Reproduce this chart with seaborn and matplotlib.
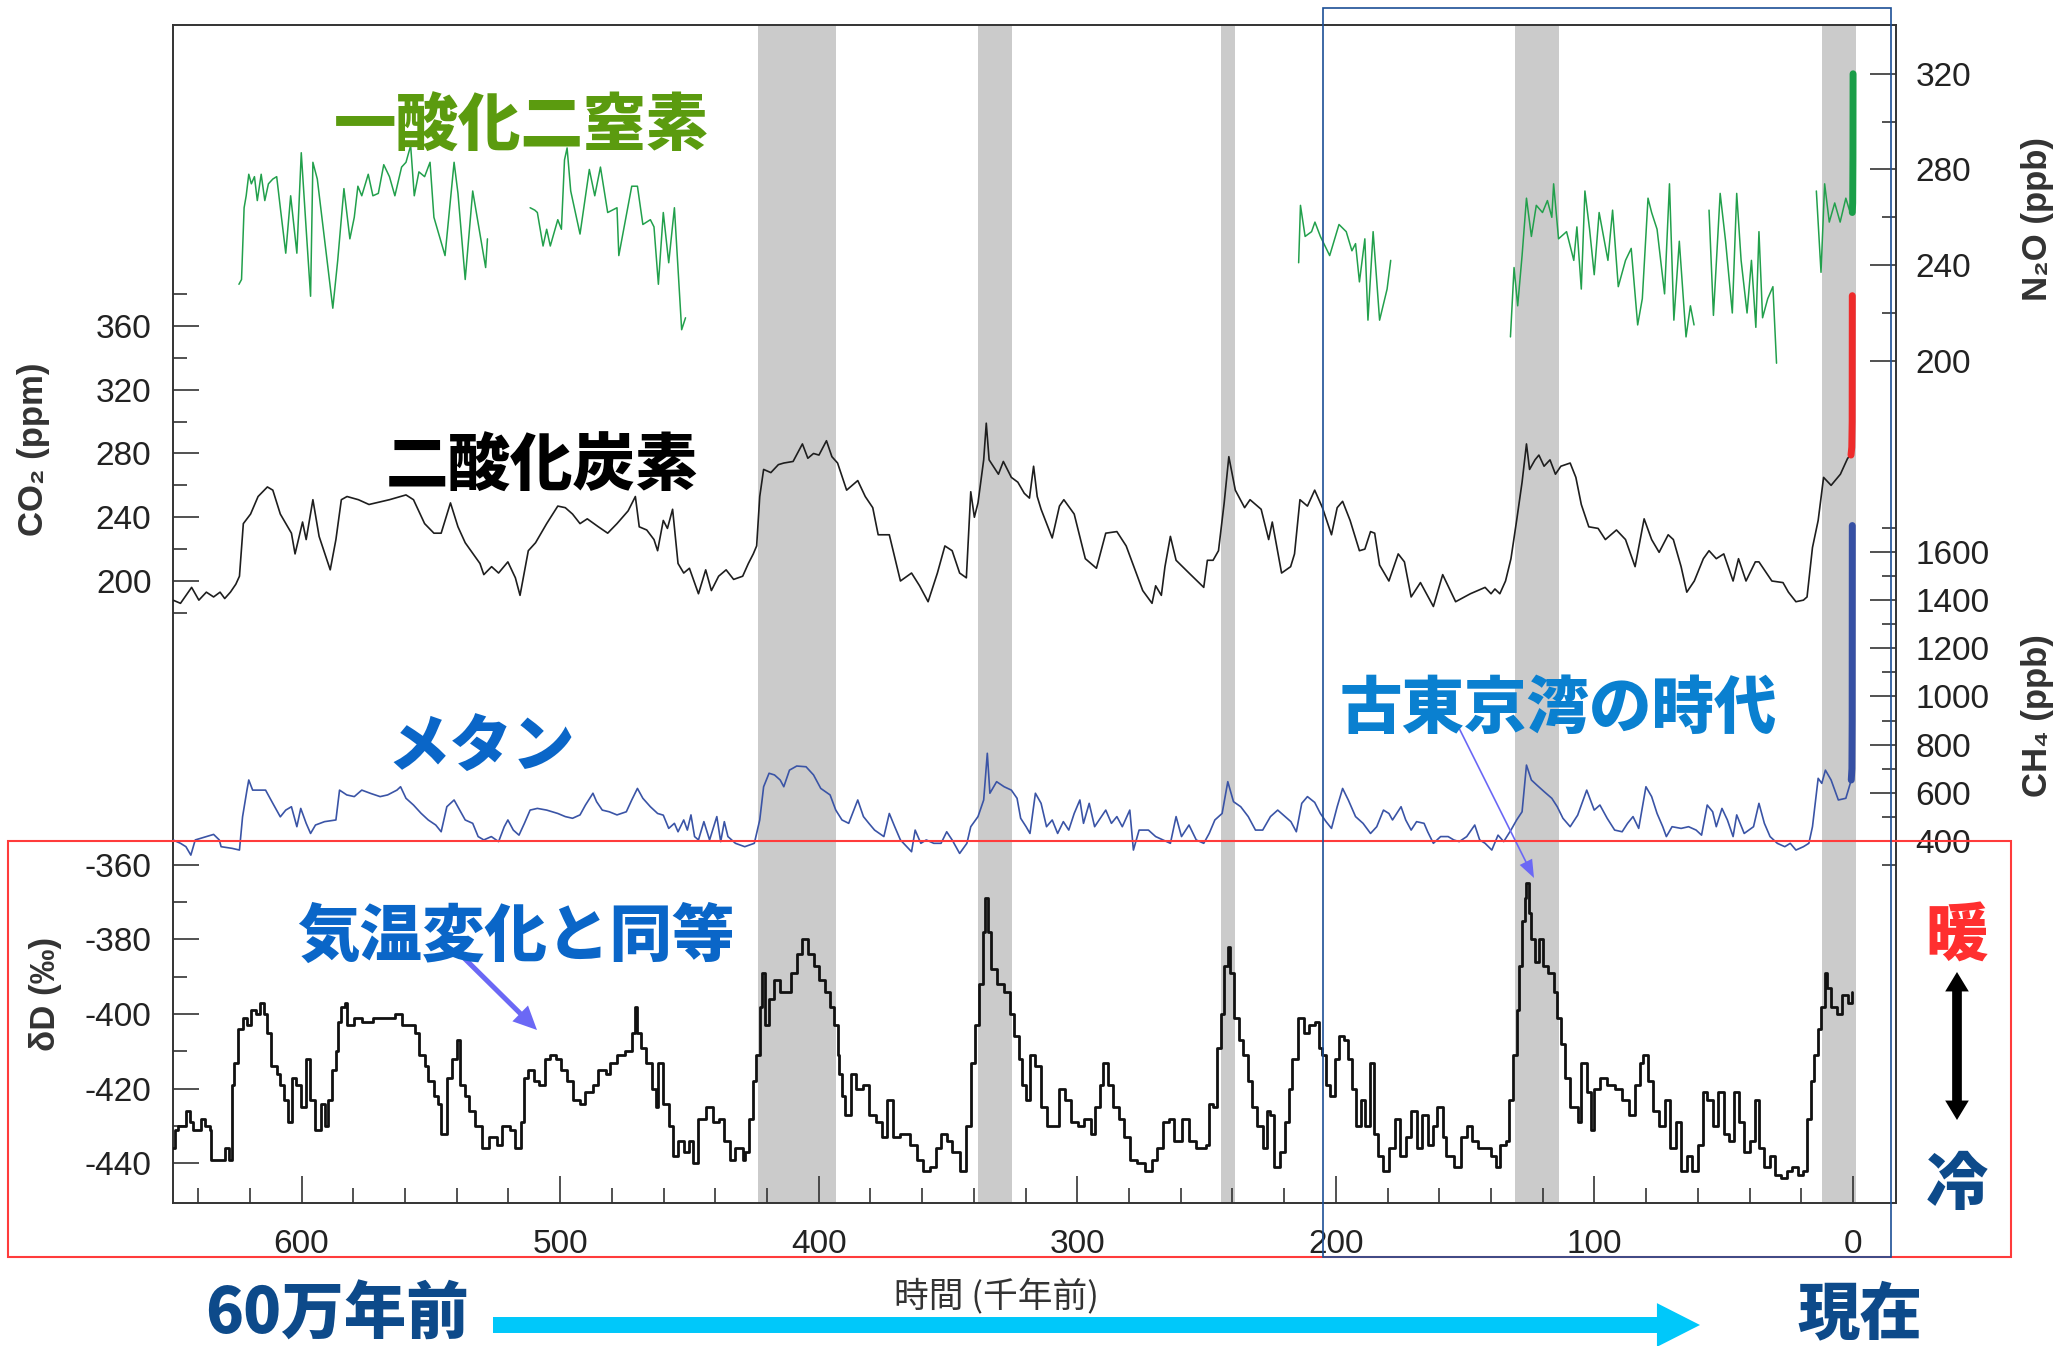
import matplotlib
matplotlib.use("Agg")
import matplotlib.pyplot as plt
from matplotlib.patches import Rectangle, FancyArrowPatch
from matplotlib.ticker import FixedLocator
import seaborn as sns

# ---------------------------------------------------------------------------
# Ice-core records (age in thousand years before present)
# ---------------------------------------------------------------------------
co2_age = [
    649.7, 646.8, 642.5, 639.7, 636.8, 634.0, 631.5, 629.7, 627.5, 625.4,
    624.0, 622.5, 619.7, 616.8, 613.2, 611.1, 608.2, 603.9, 602.5, 599.6,
    598.2, 595.6, 593.2, 588.9, 586.7, 584.6, 582.4, 578.0, 573.9, 566.0,
    559.6, 556.7, 552.4, 548.8, 546.0, 542.4, 539.5, 536.7, 531.0, 529.5,
    526.5, 523.8, 520.2, 517.3, 515.5, 512.3, 509.5, 505.2, 500.9, 498.0,
    495.2, 492.3, 489.5, 485.2, 481.6, 478.0, 473.7, 470.9, 469.4, 466.5,
    463.7, 462.3, 460.1, 458.5, 456.5, 454.4, 452.2, 450.0, 446.5, 443.7,
    441.5, 438.7, 435.8, 432.9, 429.4, 427.2, 425.3, 424.0, 422.8, 421.3,
    418.5, 415.6, 413.5, 409.9, 406.3, 404.2, 402.0, 399.9, 397.0, 394.9,
    392.7, 389.2, 384.9, 382.0, 379.1, 377.0, 372.7, 368.4, 364.1, 361.0,
    357.7, 354.1, 351.2, 348.4, 345.5, 342.9, 341.2, 339.8, 338.4, 336.2,
    335.2, 334.1, 330.5, 328.6, 325.5, 323.0, 320.5, 318.5, 316.9, 315.5,
    314.0, 309.7, 306.9, 305.2, 301.2, 296.9, 292.6, 289.0, 284.7, 281.1,
    274.7, 271.1, 269.7, 267.5, 266.1, 264.0, 261.8, 256.8, 251.1, 249.7,
    247.5, 245.4, 243.2, 241.4, 238.9, 235.3, 233.2, 228.9, 226.0, 224.6,
    221.0, 217.5, 216.0, 213.9, 211.0, 208.2, 205.2, 201.7, 199.5, 197.4,
    194.5, 190.9, 188.8, 186.6, 185.0, 183.1, 179.5, 175.9, 173.5, 170.9,
    167.3, 162.3, 158.7, 153.7, 148.0, 142.3, 140.0, 138.5, 136.6, 134.4,
    132.3, 130.1, 128.0, 126.3, 125.1, 123.0, 121.5, 119.5, 117.2, 115.1,
    113.0, 109.4, 107.2, 105.1, 102.2, 98.6, 95.8, 91.5, 88.0, 84.3,
    80.8, 77.9, 75.0, 71.5, 69.5, 66.5, 64.3, 61.4, 57.9, 55.7,
    52.9, 50.0, 46.4, 44.3, 41.4, 37.8, 36.4, 31.4, 27.1, 25.0,
    22.1, 19.2, 17.8, 15.7, 13.5, 11.4, 8.5, 4.9, 2.1, 0.8,
]
co2_ppm = [
    188, 186, 196, 188, 193, 190, 193, 189, 193, 198,
    203, 236, 242, 253, 259, 257, 242, 230, 217, 237,
    226, 251, 228, 207, 226, 251, 253, 251, 248, 251,
    254, 251, 236, 230, 230, 249, 234, 224, 211, 204,
    209, 205, 212, 202, 191, 219, 224, 236, 247, 246,
    242, 236, 239, 234, 230, 236, 244, 253, 234, 232,
    226, 219, 238, 233, 245, 211, 205, 208, 192, 207,
    194, 203, 207, 201, 203, 211, 217, 222, 253, 270,
    268, 273, 274, 275, 286, 277, 280, 279, 288, 278,
    274, 257, 263, 253, 246, 229, 229, 200, 205, 197,
    187, 205, 222, 219, 205, 202, 256, 240, 249, 276,
    299, 276, 267, 275, 265, 262, 255, 252, 272, 253,
    245, 227, 247, 251, 242, 214, 208, 230, 231, 222,
    194, 186, 197, 191, 209, 228, 213, 205, 196, 213,
    213, 219, 249, 278, 257, 246, 251, 245, 226, 237,
    205, 209, 217, 251, 247, 257, 246, 229, 246, 250,
    238, 219, 220, 231, 230, 210, 200, 217, 212, 190,
    199, 184, 204, 187, 192, 196, 192, 195, 192, 200,
    214, 238, 262, 286, 270, 276, 279, 272, 276, 267,
    272, 274, 265, 248, 234, 233, 226, 232, 226, 209,
    239, 226, 218, 229, 226, 209, 193, 200, 214, 219,
    214, 217, 200, 214, 200, 212, 212, 200, 199, 193,
    187, 188, 190, 221, 238, 265, 260, 267, 277, 279,
]

ch4_age = [
    649.7, 646.8, 644.7, 642.8, 641.1, 636.8, 634.0, 631.8, 631.1, 626.8,
    624.0, 622.8, 621.1, 620.4, 618.9, 616.1, 613.9, 611.1, 608.2, 606.1,
    603.9, 601.8, 600.3, 598.2, 596.5, 594.6, 591.1, 586.7, 585.3, 582.5,
    579.6, 576.7, 573.2, 569.6, 566.7, 563.1, 561.7, 559.6, 556.7, 553.8,
    551.0, 548.1, 546.0, 543.8, 541.0, 538.8, 536.7, 533.8, 531.7, 529.5,
    526.6, 523.8, 521.6, 520.2, 518.1, 515.9, 513.8, 511.6, 508.8, 505.2,
    500.9, 498.0, 495.2, 492.3, 490.2, 487.3, 485.9, 483.7, 481.0, 478.0,
    474.4, 472.3, 470.1, 468.0, 465.1, 462.3, 460.1, 458.0, 455.8, 454.4,
    452.2, 450.8, 449.4, 448.0, 446.5, 444.4, 442.2, 439.4, 437.9, 436.5,
    435.1, 432.2, 428.6, 424.9, 422.8, 421.3, 419.2, 417.1, 414.9, 413.5,
    411.3, 408.5, 404.9, 402.0, 399.2, 395.6, 393.4, 391.0, 388.4, 384.9,
    382.7, 380.6, 378.4, 374.8, 372.7, 370.6, 368.4, 364.1, 362.7, 360.5,
    358.4, 355.5, 352.7, 350.5, 348.4, 345.5, 342.7, 341.2, 338.4, 336.2,
    334.8, 333.8, 331.2, 328.3, 325.5, 323.3, 321.9, 319.8, 318.3, 316.2,
    314.0, 311.9, 309.7, 307.6, 305.4, 303.3, 301.2, 299.0, 297.6, 295.4,
    293.3, 291.1, 289.0, 286.8, 284.7, 282.6, 279.7, 278.3, 276.1, 272.5,
    269.7, 266.8, 264.0, 261.8, 259.7, 256.8, 254.0, 251.1, 249.0, 246.8,
    244.0, 241.8, 239.6, 236.8, 233.9, 231.1, 228.3, 225.3, 222.5, 219.6,
    217.4, 215.3, 213.2, 211.0, 208.2, 206.0, 203.8, 201.7, 199.5, 197.4,
    195.2, 192.4, 189.5, 186.6, 184.2, 181.6, 179.5, 178.1, 174.8, 173.0,
    170.9, 168.8, 165.9, 164.5, 162.3, 159.5, 156.6, 154.4, 152.3, 149.4,
    146.3, 144.4, 142.3, 139.7, 137.3, 135.1, 132.3, 130.1, 128.0, 126.3,
    124.4, 122.3, 119.4, 116.5, 114.4, 112.2, 109.4, 106.5, 103.0, 100.1,
    97.9, 95.1, 92.2, 89.3, 87.2, 85.1, 82.9, 80.1, 77.9, 75.8,
    73.6, 72.2, 70.0, 66.5, 63.6, 60.7, 58.6, 56.4, 54.3, 52.9,
    50.7, 48.6, 46.4, 45.0, 42.1, 38.5, 36.4, 34.3, 32.1, 29.3,
    26.4, 24.3, 22.1, 19.2, 17.1, 15.7, 13.5, 12.1, 10.7, 8.5,
    5.7, 2.8, 0.7,
]
ch4_ppb = [
    404, 390, 376, 341, 404, 418, 427, 404, 376, 369,
    362, 500, 611, 653, 611, 611, 611, 556, 500, 528,
    542, 459, 535, 473, 431, 466, 480, 487, 611, 591,
    584, 611, 597, 584, 591, 611, 625, 577, 549, 515,
    487, 466, 438, 542, 570, 528, 487, 473, 418, 404,
    418, 397, 459, 487, 445, 424, 473, 528, 535, 528,
    514, 501, 494, 508, 549, 598, 563, 528, 521, 508,
    521, 570, 618, 577, 542, 514, 507, 452, 473, 438,
    487, 445, 508, 418, 404, 480, 404, 501, 397, 480,
    418, 390, 376, 390, 487, 625, 681, 674, 653, 625,
    694, 711, 708, 674, 618, 591, 528, 487, 473, 570,
    501, 473, 445, 418, 514, 459, 404, 355, 445, 390,
    404, 390, 390, 438, 404, 348, 390, 459, 501, 570,
    764, 598, 646, 625, 611, 577, 494, 459, 431, 598,
    556, 459, 487, 431, 480, 445, 514, 570, 473, 556,
    459, 494, 528, 473, 501, 459, 528, 362, 445, 445,
    418, 404, 390, 501, 418, 466, 404, 390, 431, 487,
    514, 646, 563, 542, 501, 445, 445, 501, 528, 501,
    480, 438, 556, 584, 560, 514, 480, 452, 542, 618,
    570, 501, 473, 431, 459, 528, 514, 487, 542, 487,
    445, 480, 473, 438, 390, 418, 418, 404, 397, 418,
    466, 404, 390, 362, 424, 397, 445, 487, 521, 715,
    653, 632, 604, 577, 542, 494, 459, 507, 611, 528,
    549, 494, 445, 438, 473, 501, 452, 625, 584, 514,
    459, 418, 459, 452, 459, 445, 424, 549, 521, 459,
    535, 487, 418, 508, 431, 459, 556, 473, 418, 390,
    376, 390, 362, 376, 390, 459, 660, 639, 694, 653,
    570, 577, 653,
]

dd_age = [
    649.7, 649.0, 647.6, 644.7, 643.3, 641.8, 639.0, 637.5, 635.4, 635.0,
    631.1, 629.7, 628.2, 626.8, 626.1, 624.7, 622.5, 621.1, 619.7, 617.5,
    616.1, 614.7, 613.2, 611.8, 609.6, 608.2, 606.8, 605.3, 603.6, 602.2,
    600.3, 598.2, 596.8, 594.6, 592.5, 591.0, 589.6, 588.2, 586.7, 586.0,
    584.6, 583.2, 582.5, 579.6, 576.7, 572.4, 568.1, 563.9, 561.0, 558.1,
    556.0, 554.6, 552.4, 551.0, 548.8, 547.4, 546.0, 543.8, 541.7, 539.8,
    538.8, 536.7, 535.2, 533.1, 530.2, 527.4, 524.5, 522.4, 519.5, 517.3,
    515.2, 513.8, 512.3, 510.2, 508.1, 505.9, 503.8, 501.6, 499.5, 497.3,
    495.2, 492.3, 490.2, 487.3, 485.2, 482.3, 480.9, 478.0, 475.1, 472.3,
    471.1, 470.1, 468.7, 466.6, 464.4, 463.0, 462.3, 460.1, 458.0, 456.5,
    454.4, 452.2, 450.1, 448.7, 446.5, 443.7, 440.8, 438.7, 436.5, 434.4,
    432.2, 429.4, 428.5, 427.1, 425.6, 424.2, 422.8, 422.1, 420.6, 419.2,
    417.1, 414.9, 412.8, 410.6, 408.5, 406.3, 404.2, 402.0, 399.9, 397.7,
    395.6, 394.2, 392.7, 392.0, 391.0, 389.9, 387.7, 385.6, 382.7, 380.6,
    377.7, 375.6, 373.4, 371.3, 368.4, 364.8, 362.0, 359.8, 357.0, 354.8,
    352.7, 350.5, 348.4, 345.5, 342.9, 341.2, 339.5, 338.1, 336.6, 335.5,
    334.4, 333.3, 331.2, 328.3, 326.2, 324.3, 322.6, 321.2, 320.0, 318.3,
    316.2, 314.0, 311.9, 309.0, 306.9, 304.7, 302.6, 299.7, 297.6, 294.7,
    293.3, 291.1, 290.0, 288.3, 286.1, 284.0, 281.8, 279.7, 276.8, 274.0,
    271.1, 269.0, 266.8, 264.7, 262.5, 259.7, 256.8, 254.0, 250.4, 248.9,
    247.5, 246.1, 244.6, 243.2, 241.8, 240.8, 239.4, 237.5, 236.1, 234.0,
    232.5, 230.4, 228.2, 226.8, 225.3, 223.9, 221.8, 219.6, 218.2, 216.8,
    214.6, 212.5, 210.3, 208.2, 206.7, 205.2, 203.8, 202.4, 200.2, 198.8,
    196.7, 195.2, 193.8, 192.4, 190.2, 188.8, 186.9, 185.2, 183.8, 181.6,
    179.5, 177.3, 175.2, 173.0, 170.9, 168.8, 166.6, 164.5, 162.3, 160.9,
    158.7, 157.3, 154.4, 151.6, 149.4, 147.3, 145.1, 142.3, 140.1, 138.0,
    136.6, 134.4, 133.0, 131.6, 130.1, 129.1, 128.0, 127.0, 126.3, 125.4,
    124.4, 123.0, 121.5, 120.1, 118.0, 115.8, 114.4, 113.0, 111.5, 109.4,
    106.5, 105.1, 103.0, 101.5, 100.1, 97.9, 95.1, 92.2, 89.3, 86.5,
    84.3, 82.5, 81.1, 79.3, 77.2, 75.0, 72.9, 70.8, 68.6, 66.5,
    64.3, 62.2, 60.0, 57.9, 56.4, 54.3, 52.1, 50.0, 47.9, 46.1,
    44.3, 42.1, 40.0, 38.1, 36.4, 34.3, 32.1, 30.0, 27.8, 25.7,
    23.6, 21.4, 19.2, 17.8, 16.4, 15.0, 13.5, 12.4, 11.0, 10.0,
    8.5, 6.4, 4.2, 2.1, 0.4,
]
dd_permil = [
    -436, -431, -430, -426, -429, -431, -428, -430, -431, -439,
    -439, -436, -439, -419, -413, -404, -401, -403, -399, -400,
    -397, -400, -405, -414, -416, -419, -423, -429, -417, -419,
    -425, -412, -423, -431, -424, -430, -423, -415, -410, -402,
    -398, -397, -403, -401, -402, -401, -401, -400, -403, -403,
    -405, -411, -414, -418, -422, -424, -432, -417, -412, -407,
    -419, -422, -426, -430, -436, -433, -435, -430, -431, -436,
    -429, -417, -415, -418, -419, -412, -411, -412, -415, -418,
    -423, -424, -421, -419, -415, -416, -413, -411, -410, -405,
    -398, -405, -409, -413, -420, -425, -413, -424, -430, -438,
    -434, -437, -434, -440, -428, -425, -429, -428, -434, -439,
    -436, -439, -437, -428, -418, -411, -398, -389, -403, -396,
    -391, -394, -394, -389, -384, -380, -384, -387, -391, -394,
    -398, -403, -411, -416, -422, -427, -416, -420, -419, -427,
    -429, -433, -423, -433, -432, -435, -439, -442, -441, -436,
    -432, -434, -437, -442, -430, -413, -403, -392, -378, -369,
    -378, -388, -392, -394, -400, -406, -412, -419, -423, -411,
    -414, -425, -430, -430, -420, -423, -429, -430, -428, -432,
    -425, -419, -413, -419, -425, -428, -433, -439, -440, -442,
    -439, -436, -429, -428, -434, -428, -434, -436, -435, -424,
    -425, -409, -400, -387, -382, -389, -401, -407, -411, -418,
    -425, -430, -436, -426, -427, -441, -437, -429, -420, -412,
    -401, -405, -403, -402, -409, -411, -419, -422, -412, -406,
    -407, -412, -420, -430, -423, -430, -413, -432, -438, -442,
    -436, -428, -438, -433, -426, -436, -427, -435, -430, -425,
    -433, -438, -441, -433, -430, -434, -436, -436, -438, -441,
    -435, -434, -423, -411, -399, -387, -375, -369, -365, -373,
    -380, -386, -380, -387, -389, -394, -401, -408, -417, -425,
    -429, -413, -421, -431, -420, -417, -419, -420, -423, -427,
    -419, -413, -411, -418, -426, -430, -423, -436, -429, -442,
    -438, -442, -435, -421, -423, -430, -421, -432, -434, -421,
    -429, -437, -434, -423, -436, -441, -438, -443, -444, -442,
    -441, -443, -442, -428, -418, -411, -404, -398, -389, -393,
    -398, -400, -395, -397, -394,
]

# N2O is only available in separate core sections
n2o_age_1 = [624.2, 623.2, 622.2, 621.4, 620.4, 619.4, 618.2, 617.1, 615.6, 614.2,
             612.8, 611.1, 609.6, 608.2, 606.1, 604.2, 601.8, 600.1, 598.2, 596.5,
             595.6, 593.9, 587.9, 586.0, 583.6, 581.3, 579.6, 578.2, 576.7, 574.2,
             572.4, 570.3, 568.2, 566.0, 563.9, 561.3, 559.6, 557.8, 556.4, 554.6,
             552.4, 550.3, 548.8, 544.5, 541.0, 539.5, 536.7, 533.8, 528.8, 528.1]
n2o_ppb_1 = [232, 234, 264, 269, 278, 274, 277, 267, 278, 267,
             274, 276, 277, 264, 245, 269, 245, 287, 255, 227,
             283, 276, 222, 242, 272, 251, 260, 273, 269, 278,
             269, 270, 282, 277, 269, 281, 283, 290, 269, 279,
             277, 283, 260, 244, 283, 270, 234, 271, 239, 251]
n2o_age_2 = [511.6, 509.8, 508.8, 506.6, 505.2, 503.8, 500.9, 499.5, 498.3, 497.3,
             495.9, 492.3, 488.7, 486.6, 484.4, 481.6, 478.0, 477.3, 472.3, 470.1,
             468.0, 465.1, 463.7, 462.0, 460.1, 458.0, 455.8, 453.0, 451.5]
n2o_ppb_2 = [264, 263, 262, 248, 255, 248, 259, 255, 284, 289,
             271, 253, 280, 269, 281, 262, 264, 244, 273, 273,
             257, 259, 256, 232, 262, 241, 264, 213, 218]
n2o_age_3 = [214.4, 213.7, 211.9, 209.4, 208.1, 206.0, 202.4, 198.8, 196.0, 193.8,
             192.4, 190.9, 188.8, 187.6, 185.6, 183.1, 180.2, 178.8]
n2o_ppb_3 = [241, 265, 252, 254, 258, 252, 244, 257, 254, 246,
             249, 233, 251, 217, 254, 217, 230, 242]
n2o_age_4 = [132.5, 131.1, 129.7, 128.0, 126.3, 124.4, 122.5, 120.1, 118.2, 116.5,
             115.8, 113.9, 110.8, 108.0, 106.8, 105.1, 103.7, 101.9, 100.1, 98.2,
             96.5, 94.8, 93.0, 90.8, 88.0, 85.8, 83.3, 81.5, 79.3, 77.9,
             75.8, 72.9, 71.0, 69.3, 67.2, 64.6, 62.9, 61.5]
n2o_ppb_4 = [210, 239, 223, 244, 268, 252, 265, 262, 267, 260,
             274, 251, 254, 242, 256, 230, 271, 255, 236, 262,
             252, 242, 263, 231, 242, 247, 215, 226, 268, 262,
             255, 228, 274, 217, 250, 210, 223, 215]
n2o_age_5 = [55.7, 54.0, 51.4, 49.3, 46.7, 45.0, 43.3, 41.0, 39.3, 37.6,
             36.4, 35.0, 33.0, 31.0, 29.6]
n2o_ppb_5 = [263, 219, 270, 250, 220, 270, 242, 220, 242, 214,
             254, 218, 226, 231, 199]
n2o_age_6 = [14.2, 12.4, 11.0, 9.2, 7.1, 5.0, 2.8, 1.4, 0.3]
n2o_ppb_6 = [271, 237, 274, 258, 266, 258, 268, 263, 262]

# Atmospheric measurements of the industrial era
co2_modern_age = [0.8, 0.5, 0.35, 0.3]
co2_modern_ppm = [279, 284, 300, 379]
ch4_modern_age = [0.7, 0.45, 0.35, 0.3]
ch4_modern_ppb = [653, 700, 900, 1710]
n2o_modern_age = [0.3, 0.15, 0.05, 0.0]
n2o_modern_ppb = [262, 266, 285, 320]

# Interglacial periods (start, end) in ka
interglacials = [(423.5, 393.2), (338.4, 325.1), (244.6, 238.9), (130.8, 113.6), (12.1, -1.1)]

x_ticks = [0, 100, 200, 300, 400, 500, 600]
dd_ticks = [-440, -420, -400, -380, -360]
co2_ticks = [200, 240, 280, 320, 360]
n2o_ticks = [200, 240, 280, 320]
ch4_ticks = [400, 600, 800, 1000, 1200, 1400, 1600]

# ---------------------------------------------------------------------------
sns.set_theme(style="white")
plt.rcParams['font.family'] = ['Liberation Sans', 'DejaVu Sans']
plt.rcParams['axes.unicode_minus'] = False
JP = ['Noto Sans CJK JP', 'DejaVu Sans']

W, H = 2060, 1346
fig = plt.figure(figsize=(W / 100, H / 100), dpi=100)
fig.patch.set_facecolor('white')


def fx(px):
    return px / W


def fy(py):
    return 1 - py / H


L, R, T, B = 173, 1896, 25, 1203
ax = fig.add_axes([fx(L), fy(B), (R - L) / W, (B - T) / H])
ax.set_facecolor('white')

TICK_C = '#333333'
LAB_C = '#222222'

for a0, a1 in interglacials:
    ax.axvspan(a0, a1, color='#cbcbcb', lw=0, zorder=0)

# deuterium (temperature proxy)
sns.lineplot(x=dd_age, y=dd_permil, ax=ax, color='#111111', lw=2.0,
             drawstyle='steps-post', sort=False, estimator=None, zorder=3)

ax_co2 = ax.twinx()
ax_n2o = ax.twinx()
ax_ch4 = ax.twinx()

sns.lineplot(x=co2_age, y=co2_ppm, ax=ax_co2, color='#1e1e1e', lw=1.2,
             sort=False, estimator=None)
sns.lineplot(x=co2_modern_age, y=co2_modern_ppm, ax=ax_co2, color='#ee2b2b', lw=5,
             sort=False, estimator=None, solid_capstyle='round')

sns.lineplot(x=ch4_age, y=ch4_ppb, ax=ax_ch4, color='#3a54a6', lw=1.2,
             sort=False, estimator=None)
sns.lineplot(x=ch4_modern_age, y=ch4_modern_ppb, ax=ax_ch4, color='#3650a4', lw=5,
             sort=False, estimator=None, solid_capstyle='round')

n2o_segments = [(n2o_age_1, n2o_ppb_1), (n2o_age_2, n2o_ppb_2), (n2o_age_3, n2o_ppb_3),
                (n2o_age_4, n2o_ppb_4), (n2o_age_5, n2o_ppb_5), (n2o_age_6, n2o_ppb_6)]
for ages, vals in n2o_segments:
    sns.lineplot(x=ages, y=vals, ax=ax_n2o, color='#22a04c', lw=1.1,
                 sort=False, estimator=None)
sns.lineplot(x=n2o_modern_age, y=n2o_modern_ppb, ax=ax_n2o, color='#1a9e48', lw=5,
             sort=False, estimator=None, solid_capstyle='round')

# shared time axis, oldest on the left
ax.set_xlim(649.7, -16.6)
ax.set_ylim(-450.6, -135.1)
ax_co2.set_ylim(-190.2, 548.8)
ax_n2o.set_ylim(-152.1, 340.4)
ax_ch4.set_ylim(-1104, 3789)

for a in (ax, ax_co2, ax_n2o, ax_ch4):
    a.set_xlabel('')
    a.set_ylabel('')
    a.grid(False)

for s in ax.spines.values():
    s.set_visible(True)
    s.set_color(TICK_C)
    s.set_linewidth(1.4)
for a in (ax_co2, ax_n2o, ax_ch4):
    for s in a.spines.values():
        s.set_visible(False)

ax.xaxis.set_ticks_position('bottom')
ax.xaxis.set_major_locator(FixedLocator(x_ticks))
ax.xaxis.set_minor_locator(FixedLocator([v for v in range(0, 641, 20) if v % 100]))
ax.tick_params(axis='x', which='major', direction='in', length=19.5, width=1.2,
               color=TICK_C, labelsize=24, labelcolor=LAB_C, pad=19)
ax.tick_params(axis='x', which='minor', direction='in', length=10.5, width=1.2, color=TICK_C)


def style_y(a, side, majors, minors, pad):
    a.yaxis.set_ticks_position(side)
    a.yaxis.set_major_locator(FixedLocator(majors))
    a.yaxis.set_minor_locator(FixedLocator(minors))
    a.tick_params(axis='y', which='major', direction='in', length=19, width=1.2,
                  color=TICK_C, labelsize=24, labelcolor=LAB_C, pad=pad)
    a.tick_params(axis='y', which='minor', direction='in', length=10, width=1.2, color=TICK_C)


style_y(ax, 'left', dd_ticks, [-430, -410, -390, -370], 15.5)
style_y(ax_co2, 'left', co2_ticks, [180, 220, 260, 300, 340, 380], 15.5)
style_y(ax_n2o, 'right', n2o_ticks, [220, 260, 300], 14)
style_y(ax_ch4, 'right', ch4_ticks, [300, 500, 700, 900, 1100, 1300, 1500, 1700], 14)

# axis titles
lab_kw = dict(rotation=90, ha='center', va='center', fontsize=25, weight='bold', color='#333333')
fig.text(fx(33), fy(449), 'CO₂ (ppm)', **lab_kw)
fig.text(fx(45), fy(994), 'δD (‰)', **lab_kw)
fig.text(fx(2037), fy(219), 'N₂O (ppb)', **lab_kw)
fig.text(fx(2037), fy(716), 'CH₄ (ppb)', **lab_kw)
fig.text(fx(997), fy(1297), '時間 (千年前)', family=JP, fontsize=25, color='#333333',
         ha='center', va='center')

# annotations
big = dict(family=JP, weight=900, fontsize=45, ha='center', va='center')
dy = 7
fig.text(fx(521), fy(120 + dy), '一酸化二窒素', color='#5b9b0f', **big)
fig.text(fx(542), fy(460 + dy), '二酸化炭素', color='#000000', **big)
fig.text(fx(481), fy(741 + dy), 'メタン', color='#0a66c8', **big)
fig.text(fx(516), fy(930 + dy), '気温変化と同等', color='#0a66c8', **big)
fig.text(fx(1558), fy(702 + dy), '古東京湾の時代', color='#0a80d0', **big)
fig.text(fx(1957), fy(930 + dy), '暖', color='#ff2f2f', **big)
fig.text(fx(1957), fy(1178 + dy), '冷', color='#0d4a8a', **big)
fig.text(fx(337), fy(1308 + dy), '60万年前', color='#0d4a8a', **big)
fig.text(fx(1860), fy(1308 + dy), '現在', color='#0d4a8a', **big)


def arrow(x0, y0, x1, y1, color, tail, hw, hl):
    p = FancyArrowPatch((fx(x0), fy(y0)), (fx(x1), fy(y1)), transform=fig.transFigure,
                        arrowstyle=f'simple,head_length={hl},head_width={hw},tail_width={tail}',
                        mutation_scale=1, color=color, lw=0, shrinkA=0, shrinkB=0)
    fig.add_artist(p)


arrow(493, 1325, 1700, 1325, '#00c8fa', 11.5, 31.5, 31)
arrow(461, 955, 537, 1030, '#6b68f5', 3.6, 16, 17)
arrow(1459, 728, 1534, 878, '#6b68f5', 1.2, 10, 13)
arrow(1957, 1046, 1957, 972, '#000000', 7, 17, 14)
arrow(1957, 1046, 1957, 1120, '#000000', 7, 17, 14)

# highlight frames
fig.add_artist(Rectangle((fx(8), fy(1257)), (2011 - 8) / W, (1257 - 841) / H,
                         transform=fig.transFigure, fill=False, ec='#ff3b3b', lw=1.5))
fig.add_artist(Rectangle((fx(1323), fy(1257)), (1891 - 1323) / W, (1257 - 8) / H,
                         transform=fig.transFigure, fill=False, ec='#1c4f96', lw=1.2))

fig.savefig('out.png', dpi=100, facecolor='white')
